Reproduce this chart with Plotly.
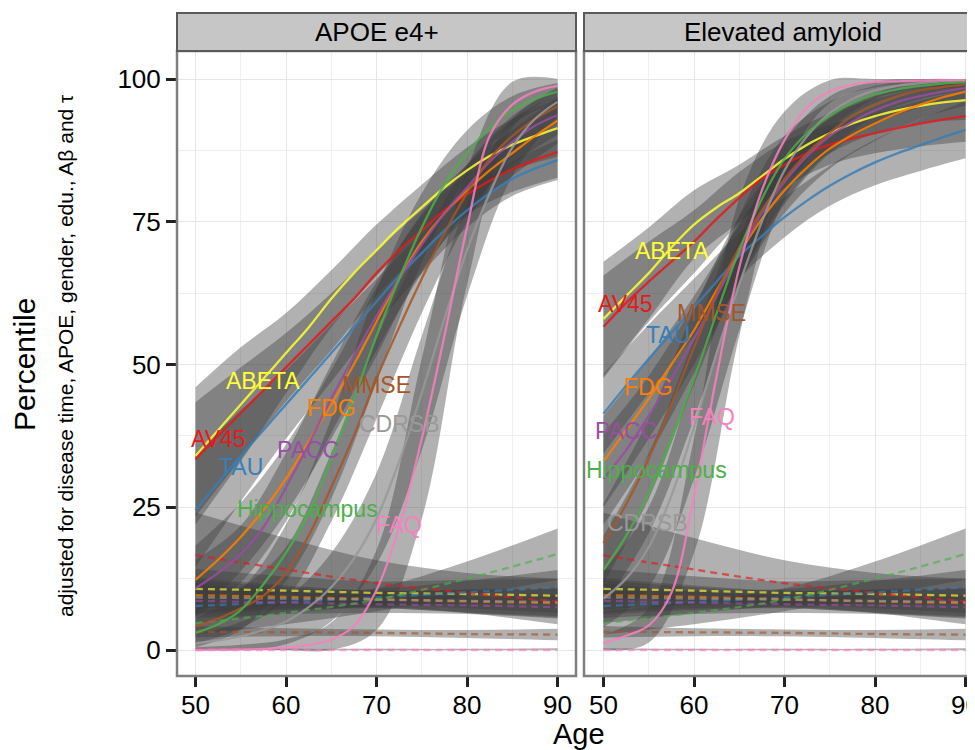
import plotly.graph_objects as go

# ---------------- data ----------------
AGES = [50, 52.5, 55, 57.5, 60, 62.5, 65, 67.5, 70, 72.5, 75, 77.5, 80, 82.5, 85, 87.5, 90]
AGES5 = [50, 55, 60, 65, 70, 75, 80, 85, 90]
AGES_REF = [50, 60, 70, 80, 90]

MARKERS = ["ABETA", "AV45", "TAU", "FDG", "PACC", "MMSE", "CDRSB", "Hippocampus", "FAQ"]
MARKER_COLORS = ["#FFFF33", "#E41A1C", "#377EB8", "#FF7F00", "#984EA3", "#A65628", "#999999", "#4DAF4A", "#F781BF"]

PANELS = ["APOE e4+", "Elevated amyloid"]

# Panel "APOE e4+" fitted percentiles (every 2.5 years)
apoe_abeta = [34, 38.5, 43, 47.5, 52, 56.5, 61.5, 66, 70, 74, 77.5, 81, 84, 86.5, 88.5, 90, 91.4]
apoe_av45 = [33.4, 37.5, 41.5, 45.5, 49.5, 53.5, 57.5, 61.5, 66, 70, 73.5, 77, 79.8, 82.2, 84.2, 85.8, 87.2]
apoe_tau = [24.5, 29.3, 34, 38.5, 43, 47.5, 52, 56.5, 61, 65.5, 69.5, 73.5, 77, 80, 82.5, 84.3, 85.8]
apoe_fdg = [12.3, 15.8, 19.8, 24.5, 30, 36.5, 43, 50, 57.5, 65, 71.5, 76.5, 80.5, 84, 87, 90, 92.7]
apoe_pacc = [10.8, 13.5, 16.8, 21.5, 28.5, 36, 44, 51.5, 58.5, 65, 71, 76.5, 81, 85.5, 89, 91.8, 93.7]
apoe_mmse = [4.1, 5.5, 7.3, 9.5, 13.5, 20, 28.5, 37.5, 47.5, 56.5, 65, 73, 80, 86, 90, 93, 95.2]
apoe_cdrsb = [1.2, 1.7, 2.4, 3.5, 5, 7.5, 11, 16, 23, 33, 45, 58, 70, 80, 88, 93, 96]
apoe_hippo = [3, 4.5, 7, 11.5, 17, 24, 33.5, 44, 55, 65, 74, 81.5, 87, 91.5, 94.5, 96.5, 97.8]
apoe_faq = [0, 0.05, 0.1, 0.2, 0.4, 0.9, 1.8, 4.2, 10.5, 21.5, 37, 55, 74, 90, 95.5, 97.8, 98.8]

# Panel "APOE e4+" ribbon half-widths (every 5 years)
apoe_abeta_hw = [12, 10, 7, 5, 4.5, 4, 4, 4.5, 5]
apoe_av45_hw = [10, 8, 6, 5, 4, 3.5, 3.5, 4, 4.5]
apoe_tau_hw = [10, 8, 6, 5, 4, 3.5, 3, 3, 3.5]
apoe_fdg_hw = [6, 6, 6, 6, 6, 5, 4.5, 4, 4]
apoe_pacc_hw = [5, 5, 6, 6, 6, 5, 4, 4, 3.5]
apoe_mmse_hw = [3, 3.5, 4.5, 6, 7, 6, 5, 3.5, 3]
apoe_cdrsb_hw = [1.5, 2.5, 4, 6, 8, 10, 8, 5, 2.5]
apoe_hippo_hw = [2.5, 3.5, 5, 7, 8, 6, 4, 2.5, 1.5]
apoe_faq_hw = [0.5, 0.8, 1.5, 3, 7, 14, 10, 4, 1.5]

# Panel "Elevated amyloid" fitted percentiles (every 2.5 years)
amy_abeta = [58, 62, 66, 70.5, 74.5, 77.5, 80, 83, 86, 88.5, 90.5, 92.2, 93.5, 94.5, 95.3, 95.9, 96.3]
amy_av45 = [56.6, 60.8, 64.5, 68, 71.5, 75.5, 79.2, 82.5, 85, 87, 88.5, 89.6, 90.5, 91.4, 92.2, 92.9, 93.5]
amy_tau = [41.4, 46.3, 51, 55.5, 60, 64.5, 69, 72.5, 75.8, 78.7, 81.3, 83.5, 85.4, 87, 88.4, 89.8, 91.1]
amy_fdg = [33, 38.5, 44, 50, 56, 63, 69.5, 75.5, 80.5, 84.5, 87.8, 90.2, 92.2, 94, 95.5, 96.8, 97.8]
amy_pacc = [30, 35, 41, 47.5, 54.5, 62, 69.5, 76.5, 82, 86.5, 90, 92.5, 94.5, 96, 97, 97.8, 98.4]
amy_mmse = [18.7, 25.5, 33.5, 43, 53, 62.5, 70.5, 77, 82.5, 87, 90.5, 93.5, 95.5, 97, 98, 98.6, 99]
amy_cdrsb = [9, 12.5, 18, 27, 39, 52, 64, 75, 84, 90, 94, 96.5, 98, 98.8, 99.3, 99.6, 99.7]
amy_hippo = [14, 20, 27.5, 37, 47.5, 59, 70, 79, 86, 90.5, 93.5, 95.8, 97.3, 98.2, 98.8, 99.2, 99.4]
amy_faq = [1.2, 2.5, 4.3, 10, 27, 48, 67, 80.5, 89.3, 95, 97.8, 99, 99.5, 99.6, 99.7, 99.8, 99.8]

# Panel "Elevated amyloid" ribbon half-widths (every 5 years)
amy_abeta_hw = [10, 8, 6, 5, 4, 3.5, 3, 3, 3.5]
amy_av45_hw = [9, 7, 5.5, 4.5, 4, 3.5, 3.5, 4, 4.5]
amy_tau_hw = [7, 6, 5, 4, 3.5, 3.5, 4, 4.5, 5]
amy_fdg_hw = [8, 7, 6, 5, 4, 3.5, 3, 2.5, 2.5]
amy_pacc_hw = [8, 7, 6, 5, 4, 3, 2.5, 2, 2]
amy_mmse_hw = [7, 7, 6.5, 5.5, 4, 3, 2, 1.5, 1]
amy_cdrsb_hw = [5, 7, 9, 8, 5, 3, 1.5, 1, 0.5]
amy_hippo_hw = [6, 7, 7, 6, 4, 2.5, 1.5, 1, 0.8]
amy_faq_hw = [1.5, 3, 10, 12, 5, 2, 1, 0.5, 0.3]

# Reference (dashed) curves, identical in both panels (every 10 years)
ref_abeta = [10.7, 10.4, 10.0, 9.8, 9.5]
ref_av45 = [16.6, 14.1, 11.7, 10.0, 8.5]
ref_tau = [7.7, 8.4, 9.2, 10.1, 11.0]
ref_fdg = [9.6, 9.3, 8.9, 8.5, 8.2]
ref_pacc = [8.6, 8.3, 8.0, 7.8, 7.5]
ref_mmse = [3.2, 3.1, 3.0, 2.8, 2.7]
ref_cdrsb = [9.2, 9.0, 8.8, 8.6, 8.4]
ref_hippo = [4.7, 6.5, 8.8, 12.5, 16.8]
ref_faq = [0, 0, 0, 0, 0]

ref_abeta_hw = [3.5, 2.5, 2, 2.5, 3]
ref_av45_hw = [7.5, 5.5, 4, 3.5, 4]
ref_tau_hw = [3, 2, 1.5, 2, 3]
ref_fdg_hw = [3, 2, 1.5, 2, 2.5]
ref_pacc_hw = [3, 2, 1.5, 1.5, 2]
ref_mmse_hw = [1, 0.7, 0.6, 0.7, 1]
ref_cdrsb_hw = [3, 2, 1.5, 2, 2.5]
ref_hippo_hw = [2, 2, 2, 3, 4.5]
ref_faq_hw = [0.3, 0.2, 0.2, 0.2, 0.3]

X_TICKS = [50, 60, 70, 80, 90]
Y_TICKS = [0, 25, 50, 75, 100]

# --------------- assemble ---------------
fits = {
    "APOE e4+": [apoe_abeta, apoe_av45, apoe_tau, apoe_fdg, apoe_pacc, apoe_mmse, apoe_cdrsb, apoe_hippo, apoe_faq],
    "Elevated amyloid": [amy_abeta, amy_av45, amy_tau, amy_fdg, amy_pacc, amy_mmse, amy_cdrsb, amy_hippo, amy_faq],
}
hws = {
    "APOE e4+": [apoe_abeta_hw, apoe_av45_hw, apoe_tau_hw, apoe_fdg_hw, apoe_pacc_hw, apoe_mmse_hw, apoe_cdrsb_hw, apoe_hippo_hw, apoe_faq_hw],
    "Elevated amyloid": [amy_abeta_hw, amy_av45_hw, amy_tau_hw, amy_fdg_hw, amy_pacc_hw, amy_mmse_hw, amy_cdrsb_hw, amy_hippo_hw, amy_faq_hw],
}
refs = [ref_abeta, ref_av45, ref_tau, ref_fdg, ref_pacc, ref_mmse, ref_cdrsb, ref_hippo, ref_faq]
ref_hws = [ref_abeta_hw, ref_av45_hw, ref_tau_hw, ref_fdg_hw, ref_pacc_hw, ref_mmse_hw, ref_cdrsb_hw, ref_hippo_hw, ref_faq_hw]

# label placement (data coordinates) per panel
label_pos = {
    "APOE e4+": {"ABETA": (57.5, 47.1), "AV45": (52.5, 37.0), "TAU": (55, 32.0), "FDG": (65, 42.4),
                 "PACC": (62.4, 35.0), "MMSE": (70, 46.4), "CDRSB": (72.5, 39.6),
                 "Hippocampus": (62.4, 24.7), "FAQ": (72.5, 21.9)},
    "Elevated amyloid": {"ABETA": (57.6, 69.8), "AV45": (52.4, 60.6), "TAU": (57.1, 55.2), "FDG": (55, 46.0),
                         "PACC": (52.5, 38.4), "MMSE": (61.9, 59.0), "CDRSB": (54.9, 22.2),
                         "Hippocampus": (55.9, 31.6), "FAQ": (62, 40.8)},
}

FONT = "Liberation Sans, Arial, Helvetica, sans-serif"
RIBBON = "rgba(60,60,60,0.40)"

# pixel geometry (screen coordinates; the page body adds an 8px offset)
OFF = 8
SCREEN_W, SCREEN_H = 975, 750
S_LEFT, S_TOP, S_BOTTOM = 177, 51, 676
W, H = SCREEN_W - OFF, SCREEN_H - OFF
ML, MT = S_LEFT - OFF, S_TOP - OFF
MB = H - (S_BOTTOM - OFF)
PLOT_W = SCREEN_W - S_LEFT
PLOT_H = S_BOTTOM - S_TOP


def px(xs):
    return (xs - S_LEFT) / PLOT_W


def py(ys):
    return (S_BOTTOM - ys) / PLOT_H


fig = go.Figure()
axes = [("x", "y"), ("x2", "y2")]


def clip(v):
    return min(100.0, max(0.0, v))


def add_ribbon(xs, center, hw, xa, ya):
    lo = [clip(c - h) for c, h in zip(center, hw)]
    hi = [clip(c + h) for c, h in zip(center, hw)]
    fig.add_trace(go.Scatter(x=xs, y=lo, mode="lines", line=dict(width=0, shape="spline"),
                             hoverinfo="skip", showlegend=False, xaxis=xa, yaxis=ya))
    fig.add_trace(go.Scatter(x=xs, y=hi, mode="lines", line=dict(width=0, shape="spline"),
                             fill="tonexty", fillcolor=RIBBON, hoverinfo="skip",
                             showlegend=False, xaxis=xa, yaxis=ya))


for p, panel in enumerate(PANELS):
    xa, ya = axes[p]
    for i in range(len(MARKERS)):
        add_ribbon(AGES_REF, refs[i], ref_hws[i], xa, ya)
    for i in range(len(MARKERS)):
        c5 = fits[panel][i][::2]
        add_ribbon(AGES5, c5, hws[panel][i], xa, ya)
    for i, m in enumerate(MARKERS):
        fig.add_trace(go.Scatter(x=AGES_REF, y=refs[i], mode="lines",
                                 line=dict(color=MARKER_COLORS[i], width=2.3, dash="7px,5px", shape="spline"),
                                 opacity=0.65, showlegend=False, xaxis=xa, yaxis=ya))
    for i, m in enumerate(MARKERS):
        fig.add_trace(go.Scatter(x=AGES, y=fits[panel][i], mode="lines",
                                 line=dict(color=MARKER_COLORS[i], width=2.3, shape="spline"),
                                 opacity=0.85, showlegend=False, xaxis=xa, yaxis=ya))

annotations = []
for p, panel in enumerate(PANELS):
    xa, ya = axes[p]
    for i, m in enumerate(MARKERS):
        lx, ly = label_pos[panel][m]
        annotations.append(dict(x=lx, y=ly, xref=xa, yref=ya, text=m, showarrow=False,
                                xanchor="center", yanchor="middle",
                                font=dict(family=FONT, size=23, color=MARKER_COLORS[i])))

# panel boxes (screen pixels)
P1 = (177, 576)
P2 = (584, 981)

shapes = []
for (x0, x1), title in zip([P1, P2], PANELS):
    shapes.append(dict(type="rect", xref="paper", yref="paper", x0=px(x0), x1=px(x1),
                       y0=py(S_BOTTOM), y1=py(S_TOP), line=dict(color="#7f7f7f", width=2.5),
                       fillcolor="rgba(0,0,0,0)", layer="above"))
    shapes.append(dict(type="rect", xref="paper", yref="paper", x0=px(x0), x1=px(x1),
                       y0=py(51), y1=py(13), line=dict(color="#5a5a5a", width=2),
                       fillcolor="#c6c6c6", layer="above"))
    annotations.append(dict(x=px((x0 + x1) / 2), y=py(32), xref="paper", yref="paper", text=title,
                            showarrow=False, xanchor="center", yanchor="middle",
                            font=dict(family=FONT, size=26, color="black")))

annotations.append(dict(x=px(579), y=py(752), xref="paper", yref="paper", text="Age", showarrow=False,
                        xanchor="center", yanchor="bottom", font=dict(family=FONT, size=29, color="black")))
annotations.append(dict(x=px(24), y=py(365), xref="paper", yref="paper", text="Percentile", showarrow=False,
                        textangle=-90, xanchor="center", yanchor="middle",
                        font=dict(family=FONT, size=30, color="black")))
annotations.append(dict(x=px(65), y=py(356), xref="paper", yref="paper",
                        text="adjusted for disease time, APOE, gender, edu., A\u03b2 and \u03c4",
                        showarrow=False, textangle=-90, xanchor="center", yanchor="middle",
                        font=dict(family=FONT, size=21, color="black")))

# axis ranges from screen geometry
PXU = 9.05   # px per year
PYU = 5.71   # px per percentile
x1_range = [50 - (195.5 - P1[0]) / PXU, 50 + (P1[1] - 195.5) / PXU]
x2_range = [50 - (603.5 - P2[0]) / PXU, 50 + (SCREEN_W - 603.5) / PXU]
y_range = [0 - (S_BOTTOM - 650) / PYU, 100 + (79 - S_TOP) / PYU]

grid_major = "#e6e6e6"
grid_minor = "#efefef"

common_x = dict(tickmode="array", tickvals=X_TICKS, ticktext=[str(v) for v in X_TICKS],
                showgrid=True, gridcolor=grid_major, gridwidth=1, zeroline=False, showline=False,
                ticks="outside", ticklen=10, tickwidth=2.5, tickcolor="#222",
                ticklabeloverflow="allow", ticklabelstandoff=-4,
                tickfont=dict(family=FONT, size=26, color="black"),
                minor=dict(tickmode="array", tickvals=[55, 65, 75, 85], showgrid=True,
                           gridcolor=grid_minor, gridwidth=1, ticks=""))
common_y = dict(range=y_range, tickmode="array", tickvals=Y_TICKS, showgrid=True, gridcolor=grid_major,
                gridwidth=1, zeroline=False, showline=False,
                minor=dict(tickmode="array", tickvals=[12.5, 37.5, 62.5, 87.5], showgrid=True,
                           gridcolor=grid_minor, gridwidth=1, ticks=""))

fig.update_layout(
    width=W, height=H,
    margin=dict(l=ML, r=0, t=MT, b=MB, autoexpand=False),
    paper_bgcolor="white", plot_bgcolor="white",
    showlegend=False,
    xaxis=dict(domain=[px(P1[0]), px(P1[1])], range=x1_range, anchor="y", **common_x),
    xaxis2=dict(domain=[px(P2[0]), 1.0], range=x2_range, anchor="y2", **common_x),
    yaxis=dict(domain=[0, 1], anchor="x", ticks="outside", ticklen=10, tickwidth=2.5, tickcolor="#222",
               tickfont=dict(family=FONT, size=26, color="black"),
               ticktext=[str(v) for v in Y_TICKS], **common_y),
    yaxis2=dict(domain=[0, 1], anchor="x2", showticklabels=False, ticks="", **common_y),
    shapes=shapes,
    annotations=annotations,
)

fig.write_html("out.html")
